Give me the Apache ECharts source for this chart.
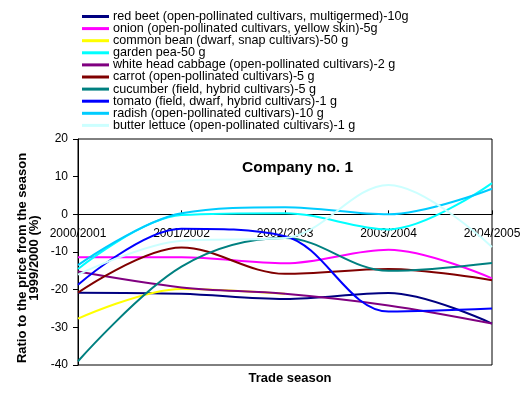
<!DOCTYPE html>
<html><head><meta charset="utf-8">
<script src="https://cdn.jsdelivr.net/npm/echarts@6/dist/echarts.min.js"></script>
<style>html,body{margin:0;padding:0;background:#fff}#c{width:528px;height:393px}</style>
</head><body><div id="c"></div>
<script>
const seasons = ['2000/2001','2001/2002','2002/2003','2003/2004','2004/2005'];
const seriesNames = [
  'red beet (open-pollinated cultivars, multigermed)-10g',
  'onion (open-pollinated cultivars, yellow skin)-5g',
  'common bean (dwarf, snap cultivars)-50 g',
  'garden pea-50 g',
  'white head cabbage (open-pollinated cultivars)-2 g',
  'carrot (open-pollinated cultivars)-5 g',
  'cucumber (field, hybrid cultivars)-5 g',
  'tomato (field, dwarf, hybrid cultivars)-1 g',
  'radish (open-pollinated cultivars)-10 g',
  'butter lettuce (open-pollinated cultivars)-1 g'
];
const redBeet      = [-20.8, -21.1, -22.5, -20.9, -29.0];
const onion        = [-11.4, -11.4, -13.0, -9.4, -17.0];
const commonBean   = [-27.7, -19.8, -21.1, null, null];
const gardenPea    = [-14.5, -0.2, 0.3, -4.0, 8.3];
const cabbage      = [-15.2, -19.4, -21.1, -24.2, -29.0];
const carrot       = [-20.8, -8.8, -15.8, -14.5, -17.5];
const cucumber     = [-39.0, -13.9, -6.3, -15.0, -12.9];
const tomato       = [-18.7, -3.8, -5.8, -25.8, -25.0];
const radish       = [-13.5, 0.3, 1.9, 0.0, 6.8];
const butterLettuce= [-16.0, -7.0, -6.3, 7.8, -8.7];
const yTicks = [-40, -30, -20, -10, 0, 10, 20];

const seriesData = [redBeet, onion, commonBean, gardenPea, cabbage, carrot, cucumber, tomato, radish, butterLettuce];
const colors = ['#000080','#FF00FF','#FFFF00','#00FFFF','#800080','#800000','#008080','#0000FF','#00CCFF','#CCFFFF'];

const FONT = 'Liberation Sans, Arial, sans-serif';
const H = 393, GT = 139, GB = 28;
const gridH = H - GT - GB;
const yMin = yTicks[0], yMax = yTicks[yTicks.length-1];
const zeroOffset = -gridH * (0 - yMin) / (yMax - yMin);

const chart = echarts.init(document.getElementById('c'), null, {renderer:'canvas'});
chart.setOption({
  animation: false,
  color: colors,
  textStyle: {fontFamily: FONT},
  title: {
    text: 'Company no. 1', left: 237, top: 155,
    textStyle: {fontFamily: FONT, fontSize: 15.5, fontWeight: 'bold', color: '#000'}
  },
  legend: {
    orient: 'vertical', left: 82, top: 10, padding: 0, itemGap: -0.9,
    icon: 'rect', itemWidth: 27, itemHeight: 3,
    data: seriesNames,
    textStyle: {fontFamily: FONT, fontSize: 12.6, color: '#000', lineHeight: 12.1, padding: [0,0,0,-1]}
  },
  grid: {left: 78, right: 36, top: GT, bottom: GB, show: true, borderColor: '#000', borderWidth: 1, backgroundColor: '#fff'},
  xAxis: {
    type: 'category', data: seasons, boundaryGap: false,
    offset: zeroOffset,
    axisLine: {onZero: false, lineStyle: {color: '#000', width: 1}},
    axisTick: {show: true, inside: true, length: 4, lineStyle: {color: '#000'}},
    axisLabel: {color: '#000', fontSize: 12, fontFamily: FONT, margin: 13, interval: 0, showMinLabel: true, showMaxLabel: true},
    splitLine: {show: false}
  },
  yAxis: {
    type: 'value', min: yMin, max: yMax, interval: 10,
    axisLine: {show: true, onZero: false, lineStyle: {color: '#000', width: 1}},
    axisTick: {show: true, length: 5, lineStyle: {color: '#000'}},
    axisLabel: {color: '#000', fontSize: 12, fontFamily: FONT, margin: 10},
    splitLine: {show: false}
  },
  graphic: [
    {type: 'text', x: 28, y: 258, rotation: Math.PI/2,
     style: {text: 'Ratio to the price from the season\n1999/2000 (%)', fill: '#000',
       font: 'bold 13px Liberation Sans, Arial, sans-serif', textAlign: 'center', textVerticalAlign: 'middle', lineHeight: 12}},
    {type: 'text', x: 290, y: 378,
     style: {text: 'Trade season', fill: '#000', font: 'bold 13px Liberation Sans, Arial, sans-serif', textAlign: 'center', textVerticalAlign: 'middle'}}
  ],
  series: seriesNames.map((n, i) => ({
    name: n, type: 'line', data: seriesData[i], smooth: 0.35, symbol: 'none',
    connectNulls: false,
    lineStyle: {width: 2, color: colors[i]}
  }))
});
</script></body></html>
